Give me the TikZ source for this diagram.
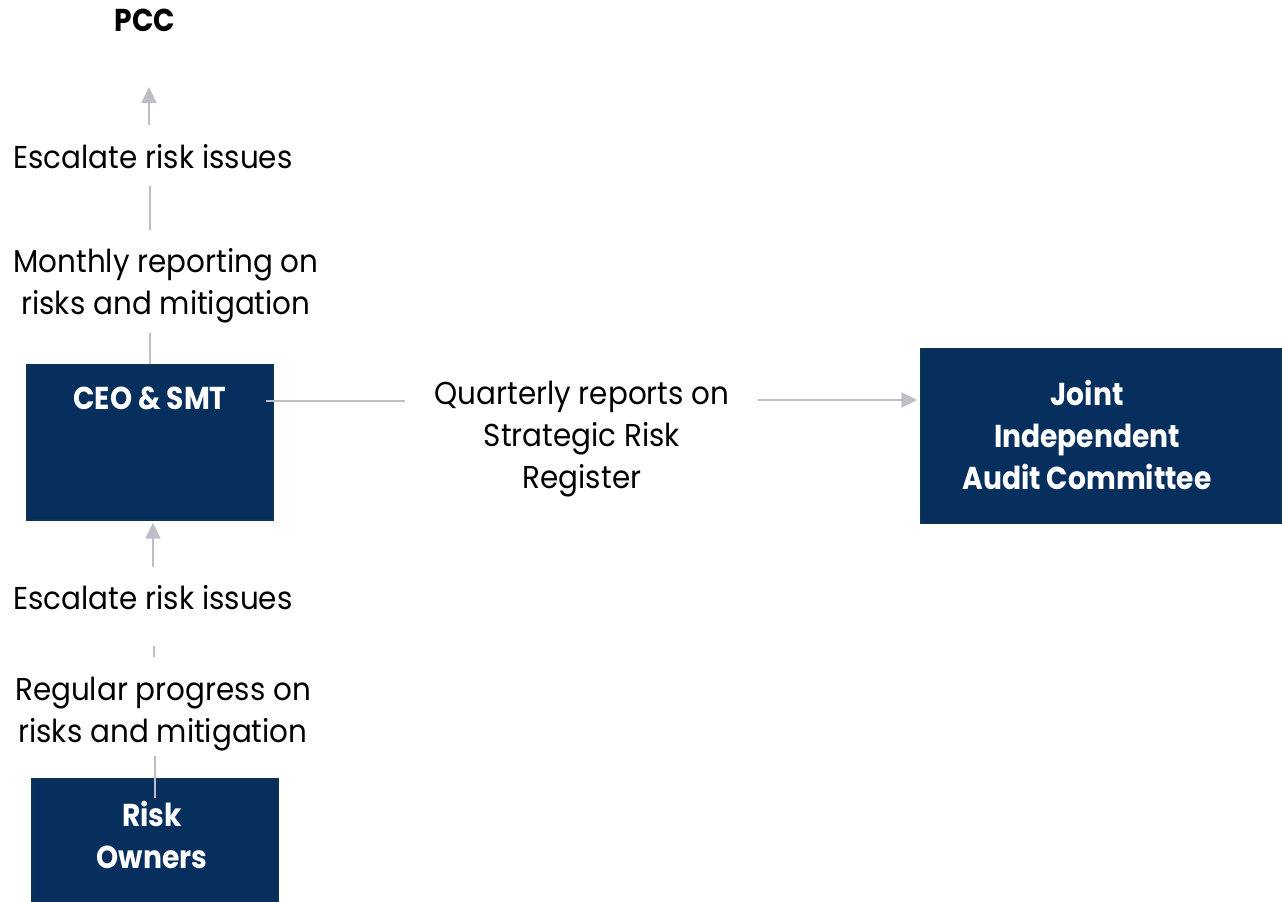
\documentclass[tikz,border=0pt]{standalone}
\usepackage{fontspec}
\setmainfont{Poppins}[FakeStretch=0.93, BoldFeatures={FakeStretch=0.89}]
\usetikzlibrary{arrows.meta,calc}
\definecolor{navy}{HTML}{062F5E}
\definecolor{navyedge}{HTML}{0C3350}
\definecolor{linkgray}{HTML}{BCC0C6}
\begin{document}
\begin{tikzpicture}[x=0.02cm, y=-0.02cm,
    note/.style={align=center, inner sep=0pt, font=\fontsize{18pt}{23.8pt}\selectfont},
    navybox/.style={fill=navy, draw=navyedge, line width=0.8pt, inner sep=0pt},
    boxlabel/.style={align=center, inner sep=0pt, text=white, font=\fontsize{18pt}{24.1pt}\selectfont\bfseries},
    link/.style={linkgray, line width=1.1pt},
    flow/.style={link, -{Triangle[width=8.5pt, length=9pt]}}]
  \clip (0,0) rectangle (1282,902);
  % ---- boxes ----
  \node[navybox, minimum width=246*0.02cm, minimum height=155*0.02cm] (ceo) at (150,442.5) {};
  \node[boxlabel] (ceotext) at (150,398) {CEO \& SMT};
  \node[navybox, minimum width=360*0.02cm, minimum height=174*0.02cm] (jiac) at (1101,436) {};
  \node[boxlabel] (jiactext) at (1087,435) {Joint\\Independent\\Audit Committee};
  \node[navybox, minimum width=246*0.02cm, minimum height=160*0.02cm] (risk) at (155,859) {};
  \node[boxlabel] (risktext) at (152,835) {Risk\\Owners};
  % ---- labels along the reporting line ----
  \node[note, font=\fontsize{18pt}{23.8pt}\selectfont\bfseries] (pcc) at (145,20) {PCC};
  \node[note] (esc1) at (153,157) {Escalate risk issues};
  \node[note] (month) at (166,286) {Monthly reporting on\\risks and mitigation};
  \node[note] (quart) at (582,439) {Quarterly reports on\\Strategic Risk\\Register};
  \node[note] (esc2) at (153,598) {Escalate risk issues};
  \node[note] (regular) at (163,714) {Regular progress on\\risks and mitigation};
  % ---- connectors ----
  \draw[flow] ($(esc1)+(-4,-32)$) -- ($(pcc)+(4,67)$);
  \draw[link] ($(month)+(-16,-56)$) -- ($(esc1)+(-3,29)$);
  \draw[link] (ceo.north) -- ($(month)+(-16,47)$);
  \draw[link] ($(ceo.east)+(-8,-41.5)$) -- ($(quart)+(-177,-38)$);
  \draw[flow] ($(quart)+(176,-39)$) -- ($(jiac.west)+(-3,-36)$);
  \draw[flow] ($(esc2)+(0,-31)$) -- ($(ceo.south)+(3,2)$);
  \draw[link] ($(regular)+(-9,-57)$) -- ($(esc2)+(1,48)$);
  \draw[link] ($(risk)+(0,-61)$) -- ($(regular)+(-8,42)$);
\end{tikzpicture}
\end{document}
